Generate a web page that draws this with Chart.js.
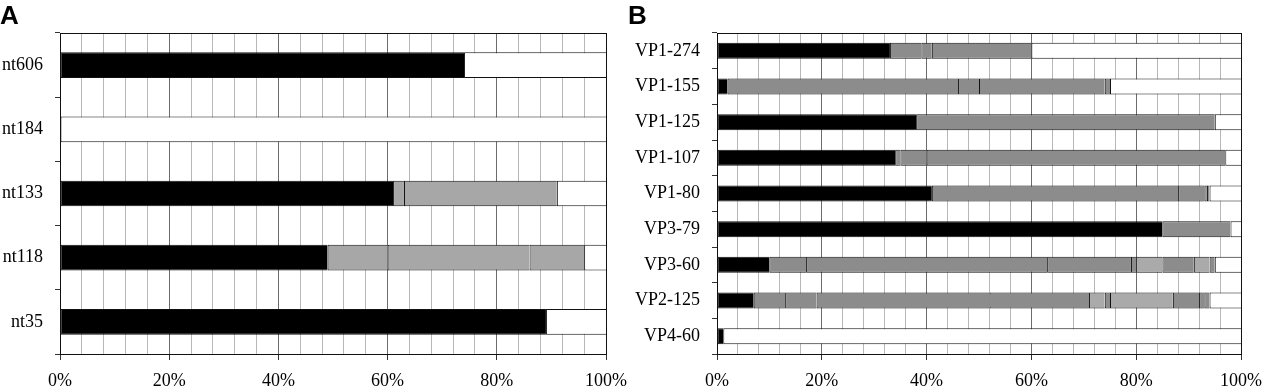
<!DOCTYPE html>
<html>
<head>
<meta charset="utf-8">
<script src="https://cdn.jsdelivr.net/npm/chart.js@4"></script>
<style>
  body { margin: 0; background: #fff; width: 1267px; height: 392px; overflow: hidden; position: relative; }
  .panel { position: absolute; top: 0; height: 392px; }
  .letter { position: absolute; top: 0; font: bold 26px 'Liberation Sans', Arial, sans-serif; line-height: 30px; color: #000; }
</style>
</head>
<body>
<div class="panel" style="left:0;width:660px"><canvas id="chartA"></canvas></div>
<div class="panel" style="left:620px;width:647px"><canvas id="chartB"></canvas></div>
<div class="letter" style="left:0">A</div>
<div class="letter" style="left:628px">B</div>
<script>
// panel A: segment widths (%) per row, and the kind of each segment
// k = black, g = gray, l = light gray, w = white (remainder)
const labelsA = ['nt606', 'nt184', 'nt133', 'nt118', 'nt35']
const segsA = [
    [74, 26],
    [100],
    [61, 2, 28, 9],
    [49, 11, 26, 10, 4],
    [89, 11]
]
const kindsA = [
    ['k', 'w'],
    ['w'],
    ['k', 'g', 'g', 'w'],
    ['k', 'g', 'g', 'g', 'w'],
    ['k', 'w']
]

// panel B
const labelsB = ['VP1-274', 'VP1-155', 'VP1-125', 'VP1-107', 'VP1-80', 'VP3-79', 'VP3-60', 'VP2-125', 'VP4-60']
const segsB = [
    [33, 6, 2, 19, 40],
    [2, 44, 4, 24, 1, 25],
    [38, 57, 5],
    [34, 1, 5, 57, 3],
    [41, 47, 5, 0.5, 0.5, 6],
    [85, 13, 2],
    [10, 7, 46, 16, 1, 5, 6, 3, 1, 5],
    [7, 6, 6, 33, 19, 3, 1, 12, 5, 1, 1, 6],
    [1.2, 98.8]
]
const kindsB = [
    ['k', 'g', 'g', 'g', 'w'],
    ['k', 'g', 'g', 'g', 'g', 'w'],
    ['k', 'g', 'w'],
    ['k', 'g', 'g', 'g', 'w'],
    ['k', 'g', 'g', 'g', 'g', 'w'],
    ['k', 'g', 'w'],
    ['k', 'g', 'g', 'g', 'g', 'l', 'g', 'l', 'g', 'w'],
    ['k', 'g', 'g', 'g', 'g', 'l', 'g', 'l', 'g', 'g', 'g', 'w'],
    ['k', 'w']
]

const xTicks = [0, 20, 40, 60, 80, 100]

const paletteA = { k: '#000000', g: '#a7a7a7', l: '#bcbcbc', w: '#ffffff' }
const paletteB = { k: '#000000', g: '#8c8c8c', l: '#aaaaaa', w: '#ffffff' }

const serif = "'Liberation Serif', 'Times New Roman', serif"

const frame = {
    id: 'frame',
    afterDraw(chart) {
        const a = chart.chartArea
        const ctx = chart.ctx
        ctx.save()
        ctx.strokeStyle = '#111'
        ctx.lineWidth = 1
        ctx.strokeRect(Math.round(a.left) + 0.5, Math.round(a.top) + 0.5, Math.round(a.right - a.left), Math.round(a.bottom - a.top))
        ctx.restore()
    }
}

function makeChart(id, labels, segs, kinds, palette, yWidth, padRight, barPct) {
    const n = Math.max(...segs.map(s => s.length))
    const datasets = []
    for (let i = 0; i < n; i++) {
        datasets.push({
            data: segs.map(s => s[i] ?? null),
            backgroundColor: kinds.map(k => palette[k[i]] || '#fff'),
            borderColor: '#111',
            borderWidth: { top: 1, right: 0, bottom: 1, left: 1 },
            borderSkipped: false,
            barPercentage: barPct,
            categoryPercentage: 1
        })
    }

    new Chart(document.getElementById(id), {
        type: 'bar',
        data: { labels: labels, datasets: datasets },
        options: {
            indexAxis: 'y',
            responsive: true,
            maintainAspectRatio: false,
            animation: false,
            layout: { padding: { top: 33, right: padRight, left: 0, bottom: 0 } },
            plugins: { legend: { display: false }, tooltip: { enabled: false } },
            scales: {
                x: {
                    stacked: true,
                    min: 0,
                    max: 100,
                    afterFit: s => {
                        s.height = 38
                        s.paddingLeft = 0
                        s.paddingRight = 0
                    },
                    afterBuildTicks: s => {
                        const t = []
                        for (let v = 0; v <= 100; v += 4) t.push({ value: v })
                        s.ticks = t
                    },
                    ticks: {
                        autoSkip: false,
                        maxRotation: 0,
                        padding: 10,
                        color: '#000',
                        font: { family: serif, size: 18 },
                        callback: v => xTicks.includes(v) ? v + '%' : ''
                    },
                    grid: {
                        color: c => (c.tick && c.tick.value % 20 === 0) ? '#6c6c6c' : '#b8b8b8',
                        tickColor: c => (c.tick && c.tick.value % 20 === 0) ? '#333' : 'rgba(0,0,0,0)',
                        tickLength: 6,
                        lineWidth: 1
                    },
                    border: { color: '#111', width: 1 }
                },
                y: {
                    stacked: true,
                    afterFit: s => { s.width = yWidth },
                    ticks: {
                        padding: 12,
                        color: '#000',
                        font: { family: serif, size: 18 }
                    },
                    grid: {
                        drawOnChartArea: false,
                        offset: true,
                        tickLength: 5,
                        color: '#333'
                    },
                    border: { color: '#111', width: 1 }
                }
            }
        },
        plugins: [frame]
    })
}

makeChart('chartA', labelsA, segsA, kindsA, paletteA, 60, 54, 0.4)
makeChart('chartB', labelsB, segsB, kindsB, paletteB, 97, 26, 0.45)
</script>
</body>
</html>
